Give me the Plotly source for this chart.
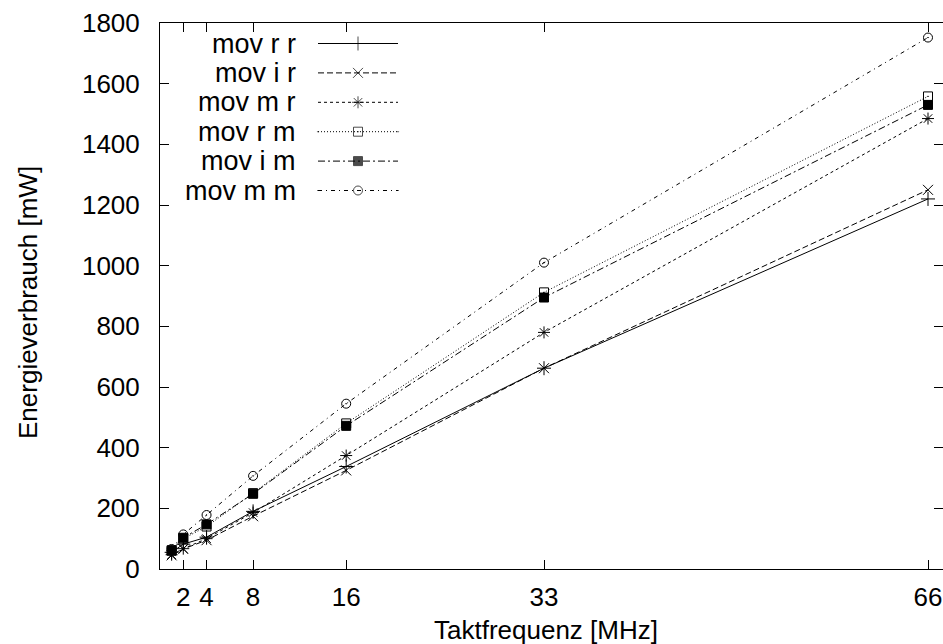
import plotly.graph_objects as go

# ---- data ----
freq = [1, 2, 4, 8, 16, 33, 66]
series_names = ["mov r r", "mov i r", "mov m r", "mov r m", "mov i m", "mov m m"]
mov_r_r = [55, 82, 105, 190, 338, 662, 1220]
mov_i_r = [45, 66, 95, 174, 325, 662, 1250]
mov_m_r = [47, 67, 100, 186, 374, 780, 1485]
mov_r_m = [60, 100, 140, 250, 480, 912, 1558]
mov_i_m = [62, 103, 147, 248, 472, 895, 1530]
mov_m_m = [66, 114, 178, 307, 545, 1010, 1752]
values = [mov_r_r, mov_i_r, mov_m_r, mov_r_m, mov_i_m, mov_m_m]
x_ticks = [2, 4, 8, 16, 33, 66]
y_ticks = list(range(0, 1801, 200))

# ---- styles ----
symbols = ["cross-thin-open", "x-thin-open", "asterisk-open", "square-open-dot", "square", "circle-open-dot"]
dashes = ["solid", "6px,3px", "3px,3px", "1px,2px", "7px,3px,2px,3px", "4px,4px,1px,4px"]
sizes = [10, 10, 10, 9, 9, 9]

W, H = 943, 644
ML, MR, MT, MB = 160, 0, 23, 75
FONT = "Liberation Sans, Arial, sans-serif"
FS = 26
FS_KEY = 27

fig = go.Figure()
for name, vals, sym, dsh, sz in zip(series_names, values, symbols, dashes, sizes):
    fig.add_trace(go.Scatter(
        x=freq, y=vals, name=name, mode="lines+markers",
        line=dict(color="black", width=1, dash=dsh),
        marker=dict(symbol=sym, size=sz, color="black",
                    line=dict(color="black", width=1)),
        showlegend=False, cliponaxis=False))

# ---- custom key (gnuplot style: text then sample) in pixel-like overlay axes ----
key_top = 43.5
key_step = 29.4
text_right = 298
samp_l, samp_r = 318, 398
for i, (name, sym, dsh, sz) in enumerate(zip(series_names, symbols, dashes, sizes)):
    yy = key_top + i * key_step
    fig.add_trace(go.Scatter(
        x=[samp_l, (samp_l + samp_r) / 2, samp_r], y=[yy, yy, yy],
        xaxis="x2", yaxis="y2", mode="lines+markers",
        line=dict(color="black", width=1, dash=dsh),
        marker=dict(symbol=sym, size=[0, sz, 0], color="black",
                    line=dict(color="black", width=1)),
        showlegend=False, hoverinfo="skip"))
    fig.add_annotation(x=text_right, y=yy, xref="x2", yref="y2", text=name,
                       showarrow=False, xanchor="right", yanchor="middle",
                       font=dict(family=FONT, size=FS_KEY, color="black"))

pw = W - ML - MR
ph = H - MT - MB
xmax = 66 * pw / (928 - ML)

axis_common = dict(showline=True, linecolor="black", linewidth=1, mirror="ticks",
                   ticks="inside", ticklen=9, tickcolor="black", tickwidth=1,
                   showgrid=False, zeroline=False,
                   tickfont=dict(family=FONT, size=FS, color="black"))

fig.update_layout(
    width=W, height=H,
    margin=dict(l=ML, r=MR, t=MT, b=MB, pad=0),
    paper_bgcolor="white", plot_bgcolor="white",
    showlegend=False,
    xaxis=dict(range=[0, xmax], tickvals=x_ticks, ticktext=[str(v) for v in x_ticks],
               ticklabelstandoff=5, **axis_common),
    yaxis=dict(range=[0, 1800], tickvals=y_ticks, ticklabelstandoff=14, **axis_common),
    xaxis2=dict(range=[ML, W - MR], overlaying="x", visible=False, fixedrange=True),
    yaxis2=dict(range=[H - MB, MT], overlaying="y", visible=False, fixedrange=True),
)

# axis titles
fig.add_annotation(text="Taktfrequenz [MHz]", xref="paper", yref="paper",
                   x=(546 - ML) / pw, y=-(630 - (H - MB)) / ph,
                   showarrow=False, xanchor="center", yanchor="middle",
                   font=dict(family=FONT, size=FS, color="black"))
fig.add_annotation(text="Energieverbrauch [mW]", xref="paper", yref="paper",
                   x=(28 - ML) / pw, y=(H - MB - 303) / ph, textangle=-90,
                   showarrow=False, xanchor="center", yanchor="middle",
                   font=dict(family=FONT, size=FS, color="black"))

fig.write_html("out.html")
